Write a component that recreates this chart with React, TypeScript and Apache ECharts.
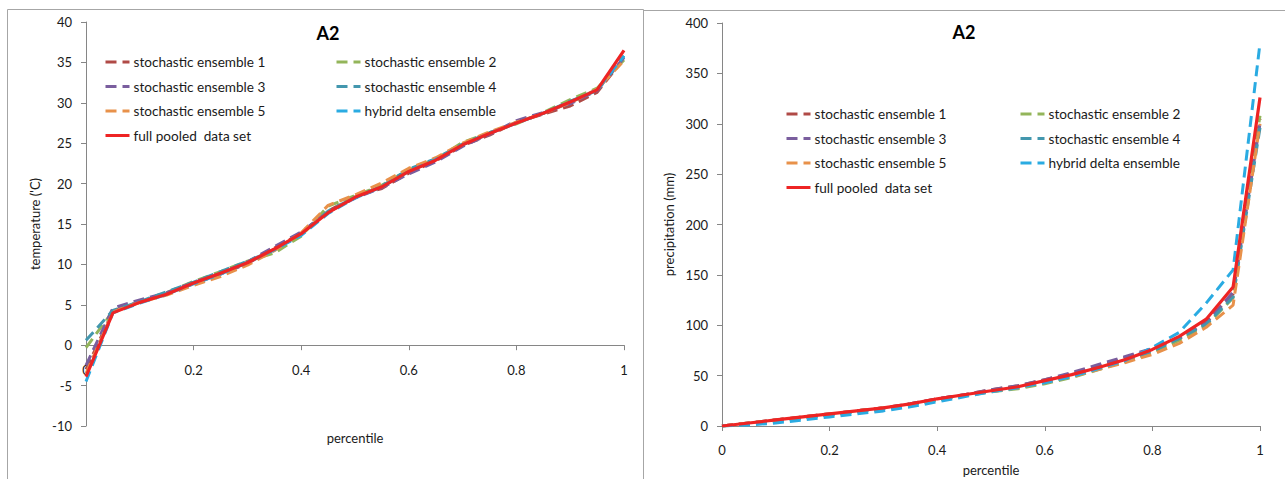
import React, { useEffect, useRef } from "react";
import * as echarts from "echarts";

// Percentile positions shared by both panels
const percentiles = [
  0, 0.05, 0.1, 0.15, 0.2, 0.25, 0.3, 0.35, 0.4, 0.45, 0.5,
  0.55, 0.6, 0.65, 0.7, 0.75, 0.8, 0.85, 0.9, 0.95, 1,
];

const seriesNames = [
  "stochastic ensemble 1",
  "stochastic ensemble 2",
  "stochastic ensemble 3",
  "stochastic ensemble 4",
  "stochastic ensemble 5",
  "hybrid delta ensemble",
  "full pooled  data set",
];

const seriesColors = ["#B04A46", "#93B55A", "#7A5E9E", "#4397AE", "#E8914A", "#2AABE2", "#EE2424"];

// Temperature quantiles ('C)
const tempS1 = [-3.0, 4.2, 5.4, 6.4, 7.6, 8.8, 10.1, 12.0, 13.9, 16.6, 18.4, 19.4, 21.3, 22.8, 24.7, 26.0, 27.6, 28.6, 29.6, 31.3, 35.5];
const tempS2 = [-0.3, 4.2, 5.3, 6.5, 7.9, 9.1, 10.4, 11.4, 13.5, 17.2, 18.5, 19.8, 21.7, 23.0, 25.1, 26.3, 27.4, 28.8, 30.4, 31.8, 35.3];
const tempS3 = [-2.5, 4.6, 5.6, 6.5, 7.8, 8.9, 10.3, 12.2, 14.0, 16.5, 18.2, 19.5, 21.2, 22.7, 24.6, 26.1, 27.8, 28.8, 29.9, 31.5, 35.6];
const tempS4 = [0.6, 4.3, 5.4, 6.6, 7.8, 9.1, 10.4, 11.8, 13.7, 16.6, 18.3, 19.7, 21.8, 23.1, 24.9, 26.3, 27.5, 28.7, 30.2, 31.5, 35.8];
const tempS5 = [-3.5, 4.1, 5.3, 6.2, 7.4, 8.5, 9.9, 11.7, 13.9, 17.3, 18.6, 20.1, 21.9, 23.2, 25.0, 26.4, 27.6, 28.7, 30.0, 31.7, 35.2];
const tempHybrid = [-4.5, 4.0, 5.2, 6.3, 7.6, 8.8, 10.2, 11.8, 13.6, 16.3, 18.2, 19.6, 21.5, 23.0, 24.8, 26.2, 27.5, 28.7, 30.1, 31.6, 35.8];
const tempFull = [-3.9, 4.0, 5.3, 6.3, 7.7, 8.9, 10.2, 11.9, 13.8, 16.4, 18.3, 19.6, 21.5, 22.9, 24.8, 26.2, 27.5, 28.7, 30.1, 31.6, 36.5];

// Precipitation quantiles (mm)
const precS1 = [0, 3, 6, 9, 12, 15, 18, 22, 27, 31, 36, 40, 46, 52, 59, 68, 76, 87, 103, 131, 305];
const precS2 = [0, 2, 5, 8, 11, 14, 17, 21, 26, 30, 34, 37, 42, 48, 56, 64, 73, 85, 100, 127, 308];
const precS3 = [0, 3, 6, 9, 12, 15, 18, 22, 27, 31, 36, 40, 46, 53, 61, 69, 77, 87, 102, 133, 300];
const precS4 = [0, 2, 5, 8, 11, 14, 17, 21, 26, 30, 35, 39, 44, 50, 57, 65, 74, 87, 101, 128, 296];
const precS5 = [0, 3, 6, 9, 12, 15, 18, 21, 26, 30, 34, 38, 43, 49, 56, 63, 71, 82, 98, 120, 300];
const precHybrid = [0, 1, 3, 6, 9, 12, 15, 19, 24, 29, 34, 38, 43, 49, 57, 65, 78, 93, 122, 155, 380];
const precFull = [0, 3, 6, 9, 12, 15, 18, 22, 27, 31, 35, 39, 45, 51, 58, 66, 76, 89, 106, 138, 326];

const tempSets = [tempS1, tempS2, tempS3, tempS4, tempS5, tempHybrid, tempFull];
const precSets = [precS1, precS2, precS3, precS4, precS5, precHybrid, precFull];

const FONT = "Lato";
const TEXT = "#1a1a1a";
const AXIS = "#868686";

function buildSeries(sets: number[][], axisIndex: number) {
  return sets.map((values, i) => {
    const solid = i === sets.length - 1;
    return {
      type: "line",
      name: seriesNames[i],
      xAxisIndex: axisIndex,
      yAxisIndex: axisIndex,
      data: values.map((v, k) => [percentiles[k], v]),
      symbol: "none",
      showSymbol: false,
      smooth: false,
      z: 2 + i,
      lineStyle: {
        color: seriesColors[i],
        width: solid ? 3.2 : 3,
        type: solid ? "solid" : [11, 6],
        cap: "butt",
      },
      itemStyle: { color: seriesColors[i] },
    };
  });
}

function valueAxisBase() {
  return {
    type: "value",
    splitLine: { show: false },
    axisLine: { show: true, lineStyle: { color: AXIS, width: 1 } },
    axisTick: { show: true, length: 5, lineStyle: { color: AXIS } },
    axisLabel: { color: TEXT, fontFamily: FONT, fontSize: 13 },
    nameTextStyle: { color: TEXT, fontFamily: FONT, fontSize: 13 },
  };
}

function legendColumn(left: number, top: number, names: string[]) {
  return {
    left,
    top,
    orient: "vertical",
    padding: 0,
    itemWidth: 24,
    itemHeight: 14,
    itemGap: 10.5,
    selectedMode: false,
    textStyle: { color: TEXT, fontFamily: FONT, fontSize: 13.6, padding: [0, 0, 0, -1] },
    itemStyle: { opacity: 0, borderWidth: 0 },
    lineStyle: { width: 3 },
    data: names,
  };
}

export default function App() {
  const ref = useRef<HTMLDivElement>(null);

  useEffect(() => {
    if (!ref.current) return;
    const chart = echarts.init(ref.current, undefined, { renderer: "svg" });

    const option = {
      animation: false,
      backgroundColor: "#ffffff",
      graphic: [
        {
          type: "rect",
          shape: { x: 7.5, y: 9.5, width: 636, height: 480 },
          style: { fill: "none", stroke: "#a6a6a6", lineWidth: 1 },
          silent: true,
        },
        {
          type: "rect",
          shape: { x: 643.5, y: 10.5, width: 650, height: 480 },
          style: { fill: "none", stroke: "#a6a6a6", lineWidth: 1 },
          silent: true,
        },
        {
          type: "text",
          x: 328,
          y: 33,
          style: {
            text: "A2",
            fontFamily: FONT,
            fontSize: 18,
            fontWeight: "bold",
            fill: "#000",
            align: "center",
            verticalAlign: "middle",
          },
        },
        {
          type: "text",
          x: 964,
          y: 32,
          style: {
            text: "A2",
            fontFamily: FONT,
            fontSize: 18,
            fontWeight: "bold",
            fill: "#000",
            align: "center",
            verticalAlign: "middle",
          },
        },
      ],
      legend: [
        legendColumn(104, 55, [seriesNames[0], seriesNames[2], seriesNames[4], seriesNames[6]]),
        legendColumn(335, 55, [seriesNames[1], seriesNames[3], seriesNames[5]]),
        legendColumn(785, 107, [seriesNames[0], seriesNames[2], seriesNames[4], seriesNames[6]]),
        legendColumn(1019, 107, [seriesNames[1], seriesNames[3], seriesNames[5]]),
      ],
      grid: [
        { left: 86, top: 22, width: 538, height: 404, outerBoundsMode: "none", containLabel: false },
        { left: 722, top: 23, width: 538, height: 403, outerBoundsMode: "none", containLabel: false },
      ],
      xAxis: [
        {
          ...valueAxisBase(),
          gridIndex: 0,
          min: 0,
          max: 1,
          interval: 0.2,
          name: "percentile",
          nameLocation: "middle",
          nameGap: 5,
          axisLine: { show: true, onZero: true, lineStyle: { color: AXIS, width: 1 } },
          // labels sit just under the zero line rather than the plot's lower edge
          axisLabel: { color: TEXT, fontFamily: FONT, fontSize: 13, margin: -63 },
        },
        {
          ...valueAxisBase(),
          gridIndex: 1,
          min: 0,
          max: 1,
          interval: 0.2,
          name: "percentile",
          nameLocation: "middle",
          nameGap: 37,
          axisLabel: { color: TEXT, fontFamily: FONT, fontSize: 13, margin: 17 },
        },
      ],
      yAxis: [
        {
          ...valueAxisBase(),
          gridIndex: 0,
          min: -10,
          max: 40,
          interval: 5,
          name: "temperature ('C)",
          nameLocation: "middle",
          nameGap: 45,
          axisLabel: { color: TEXT, fontFamily: FONT, fontSize: 13, margin: 14 },
        },
        {
          ...valueAxisBase(),
          gridIndex: 1,
          min: 0,
          max: 400,
          interval: 50,
          name: "precipitation (mm)",
          nameLocation: "middle",
          nameGap: 47,
          axisLabel: { color: TEXT, fontFamily: FONT, fontSize: 13, margin: 14 },
        },
      ],
      series: [...buildSeries(tempSets, 0), ...buildSeries(precSets, 1)],
    };

    chart.setOption(option as any);
    return () => chart.dispose();
  }, []);

  return (
    <div
      ref={ref}
      style={{ position: "fixed", left: 0, top: 0, width: 1285, height: 479, background: "#fff" }}
    />
  );
}
